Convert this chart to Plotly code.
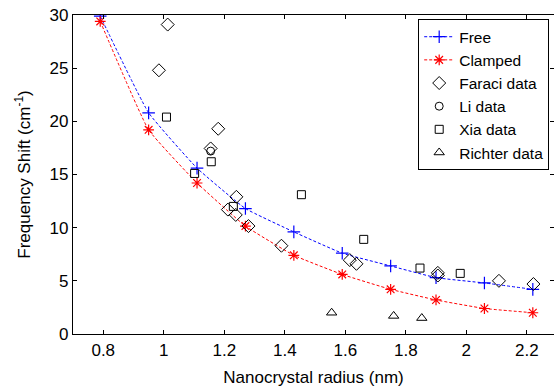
import plotly.graph_objects as go

# Model curves: phonon frequency shift vs nanocrystal radius
radius_model = [0.79, 0.95, 1.11, 1.27, 1.43, 1.59, 1.75, 1.90, 2.06, 2.22]
shift_free = [29.9, 20.8, 15.6, 11.8, 9.6, 7.6, 6.4, 5.3, 4.8, 4.2]
shift_clamped = [29.4, 19.2, 14.2, 10.15, 7.4, 5.6, 4.2, 3.2, 2.4, 2.0]

# Experimental data sets
faraci_r = [1.013, 0.984, 1.180, 1.155, 1.240, 1.212, 1.238, 1.280, 1.389, 1.615, 1.637, 1.906, 1.906, 2.108, 2.222]
faraci_s = [29.1, 24.8, 19.3, 17.45, 12.9, 11.7, 11.2, 10.15, 8.3, 6.95, 6.6, 5.5, 5.75, 5.0, 4.7]

li_r = [1.155]
li_s = [17.2]

xia_r = [1.009, 1.102, 1.157, 1.230, 1.455, 1.661, 1.847, 1.980]
xia_s = [20.4, 15.1, 16.2, 12.0, 13.1, 8.9, 6.2, 5.7]

richter_r = [1.555, 1.760, 1.853]
richter_s = [2.0, 1.7, 1.5]

x_ticks = [0.8, 1.0, 1.2, 1.4, 1.6, 1.8, 2.0, 2.2]
x_tick_text = ["0.8", "1", "1.2", "1.4", "1.6", "1.8", "2", "2.2"]
y_ticks = [0, 5, 10, 15, 20, 25, 30]

FONT = "Liberation Sans, Arial, Helvetica, sans-serif"
FS = 17

fig = go.Figure()
fig.add_trace(go.Scatter(
    x=radius_model, y=shift_free, name="Free", mode="lines+markers",
    line=dict(color="#0000ff", width=1, dash="3px,2px", shape="spline", smoothing=0.35),
    marker=dict(symbol="cross-thin-open", size=9, line=dict(color="#0000ff", width=1.2)),
))
fig.add_trace(go.Scatter(
    x=radius_model, y=shift_clamped, name="Clamped", mode="lines+markers",
    line=dict(color="#ff0000", width=1, dash="3px,2px", shape="spline", smoothing=0.35),
    marker=dict(symbol="asterisk-open", size=9, line=dict(color="#ff0000", width=1.2)),
))
fig.add_trace(go.Scatter(
    x=faraci_r, y=faraci_s, name="Faraci data", mode="markers",
    marker=dict(symbol="diamond-open", size=10, color="black", line=dict(color="black", width=1)),
))
fig.add_trace(go.Scatter(
    x=li_r, y=li_s, name="Li data", mode="markers",
    marker=dict(symbol="circle-open", size=8, color="black", line=dict(color="black", width=1)),
))
fig.add_trace(go.Scatter(
    x=xia_r, y=xia_s, name="Xia data", mode="markers",
    marker=dict(symbol="square-open", size=8, color="black", line=dict(color="black", width=1)),
))
fig.add_trace(go.Scatter(
    x=richter_r, y=richter_s, name="Richter data", mode="markers",
    marker=dict(symbol="triangle-up-open", size=9, color="black", line=dict(color="black", width=1)),
))

axis_common = dict(
    showgrid=False, zeroline=False, showline=True, linecolor="black", linewidth=1.2,
    mirror="allticks", ticks="inside", ticklen=4, tickcolor="black", tickwidth=1,
    tickfont=dict(family=FONT, size=FS, color="black"),
)

fig.update_layout(
    width=554, height=389,
    margin=dict(l=73, r=0, t=15, b=55),
    paper_bgcolor="white", plot_bgcolor="white",
    font=dict(family=FONT, size=FS, color="black"),
    xaxis=dict(range=[0.7, 2.29], tickvals=x_ticks, ticktext=x_tick_text,
               title=dict(text="Nanocrystal radius (nm)", font=dict(size=FS), standoff=12),
               **axis_common),
    yaxis=dict(range=[0, 30], tickvals=y_ticks,
               title=dict(text="Frequency Shift (cm<sup>-1</sup>)", font=dict(size=FS), standoff=14),
               **axis_common),
    legend=dict(x=0.99, y=0.987, xanchor="right", yanchor="top",
                bgcolor="white", bordercolor="black", borderwidth=1,
                font=dict(family=FONT, size=15.5), tracegroupgap=0,
                itemwidth=30),
    showlegend=True,
)

fig.write_html("out.html")
